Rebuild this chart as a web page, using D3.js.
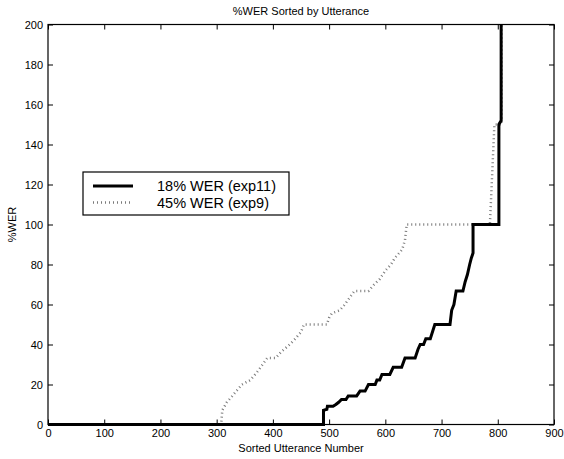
<!DOCTYPE html>
<html>
  <head>
    <meta charset="utf-8" />
    <title>%WER sorted by utterance</title>
    <script src="https://d3js.org/d3.v7.min.js"></script>
    <style>
      body {
        margin: 0;
        background: #fff;
      }
      text {
        font-family: "Liberation Sans", Arial, Helvetica, sans-serif;
      }
    </style>
  </head>
  <body>

    <svg id="chart"></svg>

    <script>

      // 18% WER (exp11) - step points [utterance, %WER]
      var exp11Utt = [0, 490, 490, 496, 497, 507, 512, 517, 522, 530, 534, 549, 555, 564, 570, 582,
        585, 590, 594, 608, 614, 629, 635, 653, 658, 662, 668, 672, 680, 688, 715, 718, 722, 726,
        738, 742, 746, 750, 753, 756, 756, 802, 802, 806, 806];
      var exp11Wer = [0, 0, 7.1, 7.6, 9.1, 9.1, 10, 11.1, 12.5, 12.5, 14.3, 14.3, 16.7, 16.7, 20, 20,
        22.2, 22.2, 25, 25, 28.6, 28.6, 33.3, 33.3, 37.5, 40, 40, 42.9, 42.9, 50, 50, 57.1, 60, 66.7,
        66.7, 71.4, 75, 80, 83.3, 85.7, 100, 100, 150, 152, 200];

      // 45% WER (exp9)
      var exp9Utt = [0, 308, 310, 318, 325, 335, 345, 360, 375, 390, 405, 415, 430, 440, 450, 455,
        496, 500, 505, 519, 528, 537, 545, 570, 580, 590, 600, 610, 617, 630, 635, 638, 786, 790,
        794, 807, 807];
      var exp9Wer = [0, 0, 7.1, 11.1, 13.3, 16.7, 20, 22.2, 27.3, 33.3, 33.3, 36.4, 40, 42.9, 46.2, 50,
        50, 53.3, 55.6, 57.1, 60, 63.6, 66.7, 66.7, 70, 72.7, 76.9, 80, 83.3, 87.5, 92.3, 100, 100, 125,
        150, 150, 200];

      var xTicks = [0, 100, 200, 300, 400, 500, 600, 700, 800, 900];
      var yTicks = [0, 20, 40, 60, 80, 100, 120, 140, 160, 180, 200];
      var seriesNames = ["18% WER (exp11)", "45% WER (exp9)"];

      var width = 564;
      var height = 459;
      var margin = {top: 24.5, right: 10, bottom: 34.5, left: 48};

      var svg = d3.select("#chart")
        .attr("width", width)
        .attr("height", height);

      var x = d3.scaleLinear()
        .domain([0, 900])
        .range([margin.left, width - margin.right]);

      var y = d3.scaleLinear()
        .domain([0, 200])
        .range([height - margin.bottom, margin.top]);

      var line = d3.line()
        .x(function(d) { return x(d[0]); })
        .y(function(d) { return y(d[1]); });

      var exp11 = d3.zip(exp11Utt, exp11Wer);
      var exp9 = d3.zip(exp9Utt, exp9Wer);

      // dotted one underneath
      svg.append("path")
        .datum(exp9)
        .attr("fill", "none")
        .attr("stroke", "#7a7a7a")
        .attr("stroke-width", 2.5)
        .attr("stroke-dasharray", "1,3")
        .attr("d", line);

      svg.append("path")
        .datum(exp11)
        .attr("fill", "none")
        .attr("stroke", "#000")
        .attr("stroke-width", 3)
        .attr("stroke-linejoin", "miter")
        .attr("d", line);

      // axes, ticks on all four sides pointing inward
      var fs = "11px";
      svg.append("g")
        .attr("transform", "translate(0," + y(0) + ")")
        .call(d3.axisBottom(x).tickValues(xTicks).tickSize(-5).tickPadding(5))
        .call(function(g) { g.select(".domain").remove(); })
        .selectAll("text").attr("font-size", fs).attr("fill", "#000");

      svg.append("g")
        .attr("transform", "translate(0," + y(200) + ")")
        .call(d3.axisTop(x).tickValues(xTicks).tickSize(-5).tickFormat(""))
        .call(function(g) { g.select(".domain").remove(); });

      svg.append("g")
        .attr("transform", "translate(" + x(0) + ",0)")
        .call(d3.axisLeft(y).tickValues(yTicks).tickSize(-5).tickPadding(5))
        .call(function(g) { g.select(".domain").remove(); })
        .selectAll("text").attr("font-size", fs).attr("fill", "#000");

      svg.append("g")
        .attr("transform", "translate(" + x(900) + ",0)")
        .call(d3.axisRight(y).tickValues(yTicks).tickSize(-5).tickFormat(""))
        .call(function(g) { g.select(".domain").remove(); });

      svg.selectAll(".tick line").attr("stroke", "#000");

      svg.append("rect")
        .attr("x", x(0))
        .attr("y", y(200))
        .attr("width", x(900) - x(0))
        .attr("height", y(0) - y(200))
        .attr("fill", "none")
        .attr("stroke", "#000")
        .attr("stroke-width", 1.2);

      svg.append("text")
        .attr("x", (x(0) + x(900)) / 2)
        .attr("y", 15)
        .attr("text-anchor", "middle")
        .attr("font-size", fs)
        .text("%WER Sorted by Utterance");

      svg.append("text")
        .attr("x", (x(0) + x(900)) / 2)
        .attr("y", 452)
        .attr("text-anchor", "middle")
        .attr("font-size", fs)
        .text("Sorted Utterance Number");

      svg.append("text")
        .attr("transform", "translate(16," + (y(100)) + ") rotate(-90)")
        .attr("text-anchor", "middle")
        .attr("font-size", fs)
        .text("%WER");

      // legend
      var legend = svg.append("g").attr("transform", "translate(83,172)");
      legend.append("rect")
        .attr("width", 206)
        .attr("height", 43)
        .attr("fill", "#fff")
        .attr("stroke", "#000")
        .attr("stroke-width", 1.2);

      var styles = [
        {stroke: "#000", width: 3, dash: null},
        {stroke: "#7a7a7a", width: 2.5, dash: "1,3"}
      ];
      seriesNames.forEach(function(name, i) {
        var cy = 14 + i * 16.5;
        legend.append("line")
          .attr("x1", 10).attr("x2", 50)
          .attr("y1", cy).attr("y2", cy)
          .attr("stroke", styles[i].stroke)
          .attr("stroke-width", styles[i].width)
          .attr("stroke-dasharray", styles[i].dash);
        legend.append("text")
          .attr("x", 74)
          .attr("y", cy + 5)
          .attr("font-size", "14.5px")
          .text(name);
      });

    </script>

  </body>
</html>
